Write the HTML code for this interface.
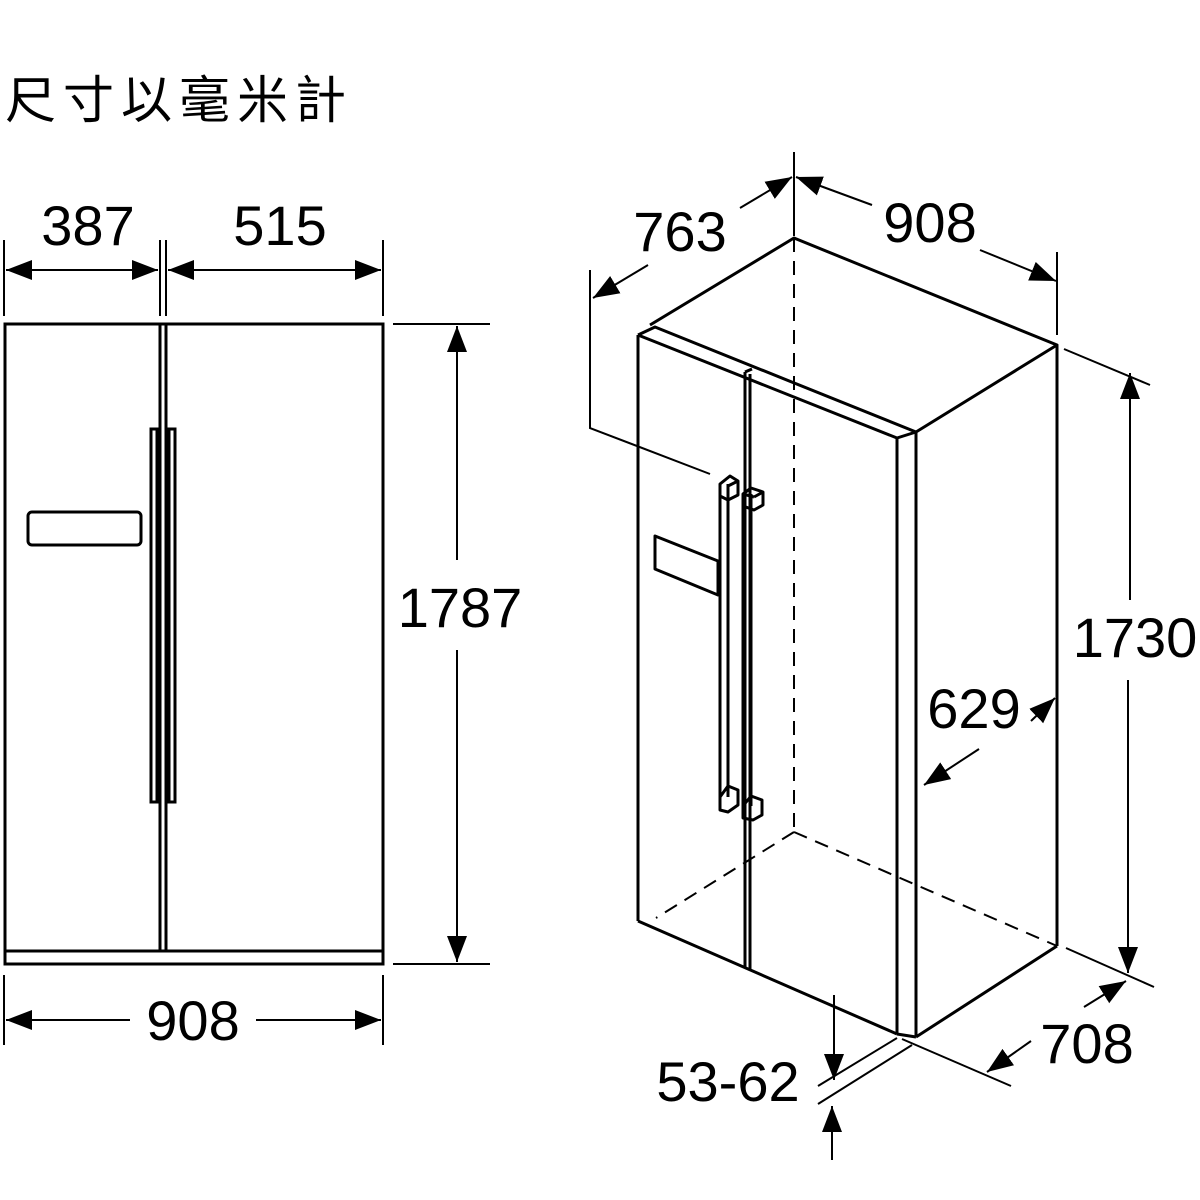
<!DOCTYPE html>
<html><head><meta charset="utf-8"><style>
html,body{margin:0;padding:0;background:#fff;}
svg{display:block}
text{font-family:"Liberation Sans",Arial,sans-serif;fill:#000}
</style></head><body>
<svg width="1200" height="1200" viewBox="0 0 1200 1200" xmlns="http://www.w3.org/2000/svg">
<defs>
<marker id="a" markerUnits="userSpaceOnUse" markerWidth="28" markerHeight="22" refX="26" refY="10" orient="auto-start-reverse">
<path d="M0,0 L26,10 L0,20 z" fill="#000"/>
</marker>
</defs>
<text x="5" y="118" style="font-family:'Liberation Sans','Noto Sans CJK TC',sans-serif;font-size:51px;letter-spacing:7px">尺寸以毫米計</text>

<!-- LEFT FRONT VIEW -->
<g fill="none" stroke="#000" stroke-width="3">
<rect x="5" y="324" width="378" height="640"/>
<line x1="5" y1="951" x2="383" y2="951"/>
<line x1="160" y1="324" x2="160" y2="951"/>
<line x1="166" y1="324" x2="166" y2="951"/>
<rect x="151" y="429" width="6" height="373"/>
<rect x="169" y="429" width="6" height="373"/>
<rect x="28" y="512" width="113" height="33" rx="4"/>
</g>
<g stroke="#000" stroke-width="2" fill="none">
<line x1="4" y1="240" x2="4" y2="316"/>
<line x1="160" y1="240" x2="160" y2="316"/>
<line x1="166" y1="240" x2="166" y2="316"/>
<line x1="383" y1="240" x2="383" y2="316"/>
<line x1="6" y1="270" x2="158" y2="270" marker-start="url(#a)" marker-end="url(#a)"/>
<line x1="168" y1="270" x2="381" y2="270" marker-start="url(#a)" marker-end="url(#a)"/>
<line x1="4" y1="975" x2="4" y2="1045"/>
<line x1="383" y1="975" x2="383" y2="1045"/>
<line x1="130" y1="1020" x2="6" y2="1020" marker-end="url(#a)"/>
<line x1="256" y1="1020" x2="381" y2="1020" marker-end="url(#a)"/>
<line x1="393" y1="324" x2="490" y2="324"/>
<line x1="393" y1="964" x2="490" y2="964"/>
<line x1="457" y1="560" x2="457" y2="326" marker-end="url(#a)"/>
<line x1="457" y1="650" x2="457" y2="962" marker-end="url(#a)"/>
</g>
<g font-size="56">
<text x="88" y="245" text-anchor="middle">387</text>
<text x="280" y="245" text-anchor="middle">515</text>
<text x="193" y="1040" text-anchor="middle">908</text>
<text x="460" y="627" text-anchor="middle">1787</text>
</g>

<!-- 3D VIEW -->
<g fill="none" stroke="#000" stroke-width="3" stroke-linejoin="round">
<polyline points="650,325 794,238 1057,345 916,432"/>
<polyline points="638,335 655,327 916,432"/>
<line x1="638" y1="335" x2="897" y2="438"/>
<line x1="897" y1="438" x2="916" y2="432"/>
<line x1="638" y1="335" x2="638" y2="921"/>
<line x1="897" y1="438" x2="897" y2="1034"/>
<line x1="916" y1="432" x2="916" y2="1037"/>
<line x1="1057" y1="345" x2="1057" y2="946"/>
<line x1="638" y1="921" x2="897" y2="1034"/>
<line x1="897" y1="1034" x2="916" y2="1037"/>
<line x1="916" y1="1037" x2="1057" y2="946"/>
<line x1="745" y1="372" x2="745" y2="968"/>
<line x1="750" y1="374" x2="750" y2="970"/>
<line x1="745" y1="372" x2="752" y2="369"/>
<polygon points="655,536 718,561 718,595 655,569"/>
<line x1="720" y1="484" x2="720" y2="797"/>
<line x1="728" y1="484" x2="728" y2="797"/>
<polygon points="720,484 730,476 738,481 738,495 728,500 720,496"/>
<line x1="728" y1="486" x2="738" y2="481"/>
<line x1="743" y1="494" x2="743" y2="806"/>
<line x1="751" y1="494" x2="751" y2="806"/>
<polygon points="743,494 751,488 763,492 763,505 754,510 743,506"/>
<line x1="743" y1="494" x2="754" y2="497"/>
<line x1="754" y1="497" x2="763" y2="492"/>
<polygon points="720,797 728,786 738,790 738,805 728,812 720,810"/>
<polygon points="743,806 751,796 762,800 762,815 753,820 743,818"/>
</g>
<g stroke="#000" stroke-width="2" fill="none" stroke-dasharray="14,9">
<line x1="794" y1="238" x2="794" y2="832"/>
<line x1="794" y1="832" x2="656" y2="918"/>
<line x1="794" y1="832" x2="1057" y2="946"/>
</g>
<g stroke="#000" stroke-width="2" fill="none">
<line x1="794" y1="152" x2="794" y2="236"/>
<polyline points="590,270 590,428 710,474"/>
<line x1="648" y1="265" x2="593" y2="298" marker-end="url(#a)"/>
<line x1="740" y1="208" x2="792" y2="177" marker-end="url(#a)"/>
<line x1="872" y1="205" x2="796" y2="177" marker-end="url(#a)"/>
<line x1="980" y1="250" x2="1056" y2="281" marker-end="url(#a)"/>
<line x1="1057" y1="252" x2="1057" y2="335"/>
<line x1="1064" y1="349" x2="1150" y2="385"/>
<line x1="1130" y1="600" x2="1130" y2="373" marker-end="url(#a)"/>
<line x1="1128" y1="680" x2="1128" y2="973" marker-end="url(#a)"/>
<line x1="1066" y1="948" x2="1154" y2="987"/>
<line x1="1031" y1="721" x2="1055" y2="698" marker-end="url(#a)"/>
<line x1="979" y1="749" x2="924" y2="785" marker-end="url(#a)"/>
<line x1="902" y1="1039" x2="1011" y2="1086"/>
<line x1="1031" y1="1041" x2="987" y2="1072" marker-end="url(#a)"/>
<line x1="1084" y1="1007" x2="1126" y2="981" marker-end="url(#a)"/>
<line x1="818" y1="1086" x2="897" y2="1038"/>
<line x1="818" y1="1104" x2="912" y2="1045"/>
<line x1="834" y1="995" x2="834" y2="1080" marker-end="url(#a)"/>
<line x1="832" y1="1160" x2="832" y2="1106" marker-end="url(#a)"/>
</g>
<g font-size="56">
<text x="680" y="251" text-anchor="middle">763</text>
<text x="930" y="242" text-anchor="middle">908</text>
<text x="1135" y="657" text-anchor="middle">1730</text>
<text x="974" y="728" text-anchor="middle">629</text>
<text x="1087" y="1063" text-anchor="middle">708</text>
<text x="728" y="1101" text-anchor="middle">53-62</text>
</g>
</svg>
</body></html>
